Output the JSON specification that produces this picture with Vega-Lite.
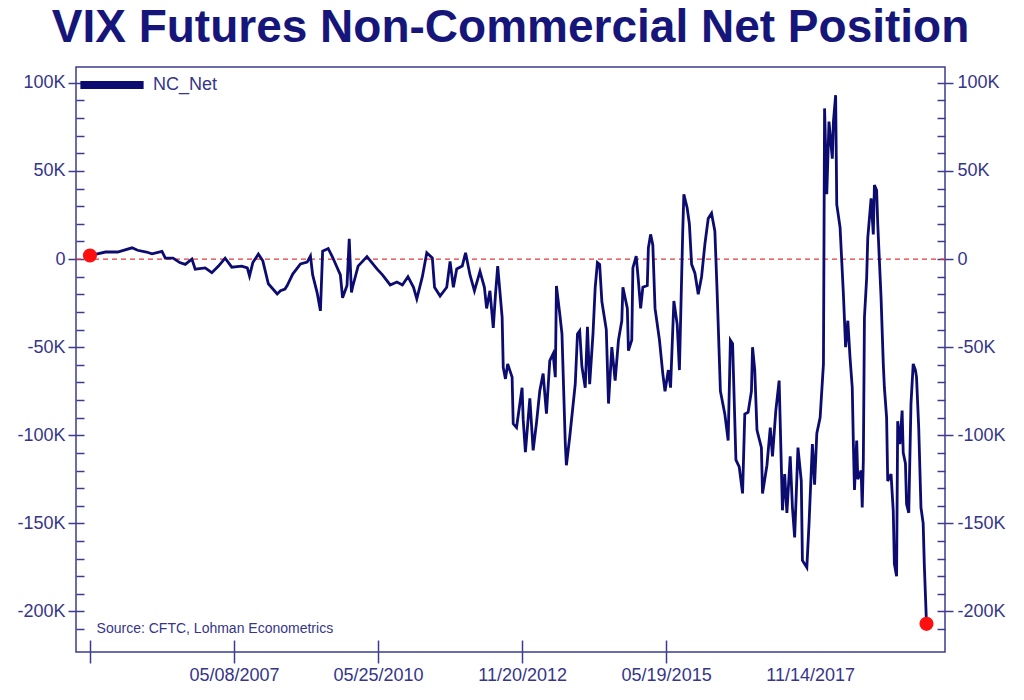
{
  "$schema": "https://vega.github.io/schema/vega-lite/v6.json",
  "width": 869,
  "height": 585,
  "autosize": "none",
  "padding": {"left": 76, "top": 67, "right": 79, "bottom": 48},
  "background": "white",
  "title": {
    "text": "VIX Futures Non-Commercial Net Position",
    "font": "Liberation Sans",
    "fontSize": 46,
    "fontWeight": "bold",
    "color": "#16167a",
    "anchor": "middle",
    "offset": -3
  },
  "datasets": {
    "nc": [
      {"w": 0, "v": 2}, {"w": 14, "v": 4}, {"w": 25, "v": 4}, {"w": 38, "v": 6.4}, {"w": 43, "v": 5},
      {"w": 51, "v": 4}, {"w": 56, "v": 3}, {"w": 65, "v": 4.4}, {"w": 68, "v": 0.6}, {"w": 75, "v": 0.5},
      {"w": 81, "v": -2}, {"w": 86, "v": -3}, {"w": 92, "v": 0}, {"w": 95, "v": -5.7}, {"w": 104, "v": -5},
      {"w": 110, "v": -7.7}, {"w": 116, "v": -4}, {"w": 122, "v": 0.5}, {"w": 128, "v": -4.6}, {"w": 137, "v": -4},
      {"w": 142, "v": -5}, {"w": 144, "v": -9.6}, {"w": 147, "v": -2}, {"w": 152, "v": 2.8}, {"w": 156, "v": -1},
      {"w": 161, "v": -14}, {"w": 169, "v": -19.8}, {"w": 172, "v": -18}, {"w": 176, "v": -17}, {"w": 178, "v": -15},
      {"w": 183, "v": -8.5}, {"w": 190, "v": -2.8}, {"w": 196, "v": -1.7}, {"w": 199, "v": 1.7}, {"w": 201, "v": -9},
      {"w": 205, "v": -19}, {"w": 208, "v": -29.4}, {"w": 210, "v": 4.5}, {"w": 215, "v": 6}, {"w": 219, "v": 1},
      {"w": 226, "v": -9}, {"w": 228, "v": -22}, {"w": 232, "v": -15}, {"w": 234, "v": 11.5}, {"w": 236, "v": -19},
      {"w": 237, "v": -16}, {"w": 242, "v": -4}, {"w": 250, "v": 1.4}, {"w": 259, "v": -5.6}, {"w": 264, "v": -9},
      {"w": 271, "v": -14.7}, {"w": 277, "v": -13}, {"w": 282, "v": -14.7}, {"w": 287, "v": -10}, {"w": 292, "v": -16},
      {"w": 295, "v": -22.6}, {"w": 300, "v": -10}, {"w": 304, "v": 3.6}, {"w": 309, "v": 0.6}, {"w": 311, "v": -16},
      {"w": 316, "v": -21}, {"w": 322, "v": -16}, {"w": 325, "v": -1.3}, {"w": 328, "v": -16}, {"w": 331, "v": -5.6},
      {"w": 336, "v": -4}, {"w": 339, "v": 3.6}, {"w": 343, "v": -9}, {"w": 347, "v": -18}, {"w": 352, "v": -7},
      {"w": 356, "v": -16}, {"w": 358, "v": -28}, {"w": 361, "v": -18}, {"w": 364, "v": -39}, {"w": 366, "v": -20},
      {"w": 368, "v": -4}, {"w": 372, "v": -33}, {"w": 373, "v": -61.5}, {"w": 375, "v": -68}, {"w": 377, "v": -59.5},
      {"w": 381, "v": -67}, {"w": 382, "v": -93.5}, {"w": 385, "v": -95.6}, {"w": 390, "v": -73}, {"w": 391, "v": -91},
      {"w": 393, "v": -109.6}, {"w": 397, "v": -79}, {"w": 400, "v": -108.6}, {"w": 403, "v": -93}, {"w": 406, "v": -74.7},
      {"w": 409, "v": -65}, {"w": 412, "v": -87.7}, {"w": 415, "v": -57.7}, {"w": 418, "v": -53.8}, {"w": 420, "v": -67},
      {"w": 421, "v": -15.3}, {"w": 424, "v": -31}, {"w": 426, "v": -42.5}, {"w": 429, "v": -104.7}, {"w": 430, "v": -117},
      {"w": 433, "v": -101}, {"w": 438, "v": -70.8}, {"w": 440, "v": -42.5}, {"w": 442, "v": -40.7}, {"w": 444, "v": -61},
      {"w": 447, "v": -73}, {"w": 449, "v": -38.5}, {"w": 451, "v": -71}, {"w": 454, "v": -42.5}, {"w": 456, "v": -16},
      {"w": 458, "v": -2}, {"w": 460, "v": -3}, {"w": 462, "v": -24}, {"w": 464, "v": -32}, {"w": 466, "v": -40},
      {"w": 468, "v": -82}, {"w": 471, "v": -50}, {"w": 474, "v": -69}, {"w": 477, "v": -46}, {"w": 480, "v": -35},
      {"w": 481, "v": -16}, {"w": 485, "v": -28}, {"w": 486, "v": -52}, {"w": 489, "v": -46}, {"w": 490, "v": -5},
      {"w": 493, "v": 1.7}, {"w": 495, "v": -12.5}, {"w": 497, "v": -28}, {"w": 499, "v": -16}, {"w": 503, "v": -15},
      {"w": 504, "v": 6.4}, {"w": 506, "v": 14}, {"w": 508, "v": 8}, {"w": 510, "v": -28}, {"w": 514, "v": -46},
      {"w": 517, "v": -65}, {"w": 519, "v": -75}, {"w": 522, "v": -63}, {"w": 524, "v": -73}, {"w": 527, "v": -23.8},
      {"w": 530, "v": -37}, {"w": 532, "v": -63}, {"w": 535, "v": 15.8}, {"w": 536, "v": 36.8}, {"w": 539, "v": 29},
      {"w": 541, "v": 20}, {"w": 543, "v": -3}, {"w": 546, "v": -8}, {"w": 549, "v": -20}, {"w": 552, "v": -10},
      {"w": 555, "v": 8.5}, {"w": 558, "v": 23}, {"w": 561, "v": 26}, {"w": 564, "v": 15.8}, {"w": 566, "v": -18},
      {"w": 569, "v": -75}, {"w": 573, "v": -88}, {"w": 576, "v": -103}, {"w": 578, "v": -46}, {"w": 580, "v": -48},
      {"w": 583, "v": -114}, {"w": 586, "v": -118}, {"w": 589, "v": -133}, {"w": 591, "v": -88}, {"w": 594, "v": -87},
      {"w": 597, "v": -75}, {"w": 598, "v": -50}, {"w": 600, "v": -63}, {"w": 602, "v": -97}, {"w": 606, "v": -107},
      {"w": 607, "v": -133}, {"w": 611, "v": -117}, {"w": 614, "v": -95.6}, {"w": 616, "v": -112}, {"w": 619, "v": -86},
      {"w": 622, "v": -69}, {"w": 625, "v": -142.6}, {"w": 627, "v": -122}, {"w": 629, "v": -144}, {"w": 632, "v": -112},
      {"w": 634, "v": -141}, {"w": 636, "v": -158}, {"w": 639, "v": -107}, {"w": 642, "v": -126}, {"w": 643, "v": -171},
      {"w": 647, "v": -175}, {"w": 649, "v": -150}, {"w": 652, "v": -105}, {"w": 654, "v": -128}, {"w": 656, "v": -99},
      {"w": 659, "v": -90}, {"w": 662, "v": -59.5}, {"w": 663, "v": 85.5}, {"w": 665, "v": 36.8}, {"w": 667, "v": 78},
      {"w": 670, "v": 57}, {"w": 671, "v": 78}, {"w": 673, "v": 93}, {"w": 674, "v": 31}, {"w": 677, "v": 18},
      {"w": 680, "v": -20}, {"w": 682, "v": -50}, {"w": 684, "v": -35}, {"w": 686, "v": -56}, {"w": 688, "v": -73},
      {"w": 689, "v": -105}, {"w": 690, "v": -131}, {"w": 692, "v": -103}, {"w": 693, "v": -125}, {"w": 696, "v": -120},
      {"w": 697, "v": -141}, {"w": 698, "v": -114}, {"w": 699, "v": -33}, {"w": 701, "v": -10.6}, {"w": 702, "v": 12},
      {"w": 705, "v": 34.5}, {"w": 707, "v": 14}, {"w": 708, "v": 42}, {"w": 710, "v": 39}, {"w": 711, "v": 20},
      {"w": 714, "v": -22}, {"w": 716, "v": -59.5}, {"w": 717, "v": -73}, {"w": 719, "v": -90}, {"w": 720, "v": -126},
      {"w": 723, "v": -122}, {"w": 725, "v": -143}, {"w": 726, "v": -173}, {"w": 728, "v": -180}, {"w": 729, "v": -92},
      {"w": 731, "v": -105}, {"w": 733, "v": -86}, {"w": 734, "v": -110}, {"w": 736, "v": -116}, {"w": 737, "v": -139},
      {"w": 739, "v": -144}, {"w": 741, "v": -82}, {"w": 743, "v": -59.5}, {"w": 745, "v": -63}, {"w": 746, "v": -67},
      {"w": 748, "v": -96}, {"w": 750, "v": -141}, {"w": 752, "v": -150}, {"w": 753, "v": -173}, {"w": 754, "v": -190},
      {"w": 755, "v": -207}
    ],
    "ends": [{"w": 0, "v": 2}, {"w": 755, "v": -207}]
  },
  "config": {
    "view": {"stroke": "#3c3c8e", "strokeWidth": 1.5},
    "axis": {
      "grid": false,
      "title": null,
      "domain": false,
      "tickColor": "#3c3c8e",
      "tickWidth": 1.5,
      "labelColor": "#35358a",
      "labelFont": "Liberation Sans",
      "labelFontSize": 18,
      "labelOverlap": false,
      "labelFlush": false,
      "labelBound": false
    }
  },
  "resolve": {"axis": {"x": "independent", "y": "independent"}},
  "layer": [
    {
      "data": {"values": [{}]},
      "mark": {"type": "rule", "color": "#e03a3a", "strokeDash": [5, 4], "strokeWidth": 1.2},
      "encoding": {
        "y": {"datum": 0, "type": "quantitative", "scale": {"domain": [-223, 109], "nice": false, "zero": false}, "axis": null}
      }
    },
    {
      "data": {"name": "ends"},
      "mark": {"type": "point", "opacity": 0},
      "encoding": {
        "x": {"field": "w", "type": "quantitative", "scale": {"domain": [-12.6, 771.7], "nice": false, "zero": false},
          "axis": {"orient": "bottom", "values": [0, 130, 260, 390, 520], "tickSize": -12, "labels": false}},
        "y": {"field": "v", "type": "quantitative", "scale": {"domain": [-223, 109], "nice": false, "zero": false},
          "axis": {"orient": "left", "values": [-210, -200, -190, -180, -170, -160, -150, -140, -130, -120, -110, -100, -90, -80, -70, -60, -50, -40, -30, -20, -10, 0, 10, 20, 30, 40, 50, 60, 70, 80, 90, 100], "tickSize": -8, "labels": false}}
      }
    },
    {
      "data": {"name": "ends"},
      "mark": {"type": "point", "opacity": 0},
      "encoding": {
        "x": {"field": "w", "type": "quantitative", "scale": {"domain": [-12.6, 771.7], "nice": false, "zero": false}, "axis": null},
        "y": {"field": "v", "type": "quantitative", "scale": {"domain": [-223, 109], "nice": false, "zero": false},
          "axis": {"orient": "right", "values": [-210, -200, -190, -180, -170, -160, -150, -140, -130, -120, -110, -100, -90, -80, -70, -60, -50, -40, -30, -20, -10, 0, 10, 20, 30, 40, 50, 60, 70, 80, 90, 100], "tickSize": -8, "labels": false}}
      }
    },
    {
      "data": {"name": "ends"},
      "mark": {"type": "point", "opacity": 0},
      "encoding": {
        "x": {"field": "w", "type": "quantitative", "scale": {"domain": [-12.6, 771.7], "nice": false, "zero": false}, "axis": null},
        "y": {"field": "v", "type": "quantitative", "scale": {"domain": [-223, 109], "nice": false, "zero": false},
          "axis": {"orient": "right", "values": [-200, -150, -100, -50, 0, 50, 100], "tickSize": 8, "labelPadding": 4,
            "labelExpr": "datum.value == 0 ? '0' : datum.value + 'K'"}}
      }
    },
    {
      "data": {"name": "nc"},
      "mark": {"type": "line", "strokeWidth": 2.8, "interpolate": "linear"},
      "encoding": {
        "x": {"field": "w", "type": "quantitative", "scale": {"domain": [-12.6, 771.7], "nice": false, "zero": false},
          "axis": {"orient": "bottom", "values": [0, 130, 260, 390, 520, 650], "tickSize": 11, "labelPadding": 3,
            "tickOpacity": {"condition": {"test": "datum.value == 650", "value": 0}, "value": 1},
            "labelExpr": "datum.value == 130 ? '05/08/2007' : datum.value == 260 ? '05/25/2010' : datum.value == 390 ? '11/20/2012' : datum.value == 520 ? '05/19/2015' : datum.value == 650 ? '11/14/2017' : ''"}},
        "y": {"field": "v", "type": "quantitative", "scale": {"domain": [-223, 109], "nice": false, "zero": false},
          "axis": {"orient": "left", "values": [-200, -150, -100, -50, 0, 50, 100], "tickSize": 8, "labelPadding": 3,
            "labelExpr": "datum.value == 0 ? '0' : datum.value + 'K'"}},
        "color": {"datum": "NC_Net", "type": "nominal", "scale": {"range": ["#0c0c70"]},
          "legend": {"orient": "none", "legendX": 0, "legendY": -18, "title": null, "padding": 0,
            "symbolType": "stroke", "symbolStrokeWidth": 8, "symbolSize": 4000,
            "labelFont": "Liberation Sans", "labelFontSize": 18, "labelColor": "#35358a", "labelOffset": 5}}
      }
    },
    {
      "data": {"name": "ends"},
      "mark": {"type": "circle", "color": "#ff1010", "opacity": 1, "size": 200},
      "encoding": {
        "x": {"field": "w", "type": "quantitative", "scale": {"domain": [-12.6, 771.7], "nice": false, "zero": false}, "axis": null},
        "y": {"field": "v", "type": "quantitative", "scale": {"domain": [-223, 109], "nice": false, "zero": false}, "axis": null}
      }
    },
    {
      "data": {"values": [{"label": "Source: CFTC, Lohman Econometrics"}]},
      "mark": {"type": "text", "align": "left", "baseline": "middle", "font": "Liberation Sans", "fontSize": 14, "color": "#35358a"},
      "encoding": {
        "x": {"datum": 6, "type": "quantitative", "scale": {"domain": [-12.6, 771.7], "nice": false, "zero": false}, "axis": null},
        "y": {"datum": -210, "type": "quantitative", "scale": {"domain": [-223, 109], "nice": false, "zero": false}, "axis": null},
        "text": {"field": "label"}
      }
    }
  ]
}
